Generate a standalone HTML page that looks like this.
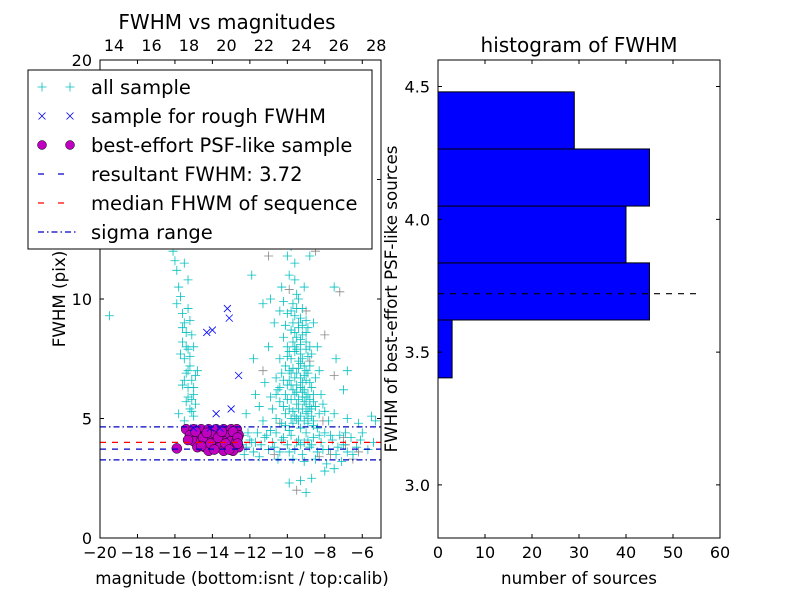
<!DOCTYPE html>
<html><head><meta charset="utf-8"><style>body{margin:0;background:#fff}svg{display:block;font-family:"DejaVu Sans","Liberation Sans",sans-serif}</style></head>
<body>
<svg id="c" width="800" height="600" viewBox="0 0 800 600">
<rect x="0" y="0" width="800" height="600" fill="#fff"/>
<g id="L"></g>
<g id="R"></g>
</svg>
<script>
const cyanPts=[-16.1,12.0,-16.0,11.6,-15.9,11.2,-16.2,12.4,-15.8,10.5,-15.7,10.1,-15.9,9.8,-15.6,9.4,-15.5,9.0,-15.4,8.6,-15.6,8.2,-15.3,7.9,-15.5,7.5,-15.2,7.2,-15.4,6.9,-15.1,6.6,-15.3,6.3,-15.0,6.0,-15.4,5.7,-15.2,5.4,-15.0,5.1,-15.5,4.9,-15.3,10.8,-15.0,8.0,-14.8,7.0,-15.7,7.7,-15.6,6.4,-14.9,5.6,-15.8,5.2,-15.3,9.6,-15.1,8.5,-14.9,6.8,-15.5,11.5,-15.2,7.6,-15.0,6.3,-15.3,5.9,-15.1,5.3,-15.4,8.0,-15.2,9.1,-15.5,6.6,-15.3,7.0,-15.1,5.8,-15.6,8.8,
-19.5,9.3,
-10.5,12.8,-9.8,12.2,-9.6,11.5,-9.9,11.0,-10.3,10.5,-9.5,10.2,-9.7,9.8,-10.0,9.4,-9.4,9.0,-9.8,8.7,-10.2,8.4,-9.3,8.1,-9.6,7.8,-10.4,7.5,-9.1,7.2,-9.9,7.0,-10.6,6.7,-9.2,6.5,-9.7,6.2,-10.1,6.0,-8.8,5.8,-9.5,5.6,-10.8,5.4,-9.0,5.2,-9.8,5.0,-10.3,4.8,-8.6,4.7,-9.3,4.6,-9.6,9.3,-9.2,8.5,-9.0,7.9,-8.9,6.9,-8.7,6.3,-8.5,5.5,-9.4,7.4,-9.9,6.6,-10.5,6.2,-10.9,5.9,-11.2,6.5,-11.5,5.5,-11.8,7.5,-11.0,8.0,-10.7,9.0,-10.9,10.0,-11.3,9.8,-8.3,7.0,-8.2,6.0,-8.0,5.3,-7.8,4.9,-8.4,8.0,-8.6,9.0,-9.1,10.5,-8.8,11.8,-10.0,11.8,-7.5,10.5,-11.9,11.0,-9.5,6.9,-9.7,5.3,-9.2,5.9,-10.2,5.5,-9.4,4.9,-9.9,4.5,-10.6,5.0,-11.3,4.9,-8.9,5.0,-8.4,4.6,-7.5,5.2,-6.8,5.0,-6.2,4.8,-5.5,5.1,-9.6,8.0,-9.8,7.5,-10.1,7.2,-9.3,6.7,-9.1,6.2,-9.6,6.0,-9.0,5.6,-8.7,5.4,-10.0,6.4,-9.4,5.4,-10.4,9.5,-9.2,9.6,-8.9,8.8,-11.7,6.0,-12.2,5.2,-7.0,6.2,-7.4,7.5,-6.8,7.0,-9.5,8.4,-9.7,7.1,-9.3,7.7,-10.0,8.0,-9.1,6.8,-9.5,6.4,-9.8,5.8,-10.3,6.9,-8.9,7.6,-9.3,5.1,
-9.4,8.8,-9.6,8.6,-9.3,8.3,-9.7,8.2,-9.5,7.9,-9.2,7.5,-9.4,7.1,-9.6,6.7,-9.0,6.6,-9.3,6.3,-9.5,6.1,-8.9,6.0,-9.1,5.7,-9.4,5.8,-8.8,5.5,-9.6,5.1,-9.1,4.9,-8.7,5.1,-9.8,6.4,-10.0,5.8,-9.9,7.8,-10.1,8.9,-9.7,9.0,-9.0,8.2,-8.8,7.2,-8.6,6.0,-8.9,5.3,-9.2,5.4,-9.5,5.0,-10.1,5.2,-10.4,5.7,-10.6,6.0,-9.8,9.5,-9.4,10.0,-9.6,10.8,-10.2,9.9,-8.5,6.7,-8.7,7.7,-9.0,9.1,
-9.2,8.9,-9.0,8.6,-8.8,8.0,-9.3,7.3,-9.0,7.0,-8.8,6.5,-9.2,6.1,-9.0,5.9,-8.6,5.7,-8.9,4.8,-9.7,4.8,-10.2,6.6,-10.4,6.3,-9.9,5.4,-10.1,4.7,-8.3,5.2,-8.1,5.6,-8.6,4.9,-9.8,6.9,-10.0,7.6,-9.5,9.6,-9.3,9.2,
-12.4,4.3,-12.2,3.8,-12.0,4.1,-11.8,3.6,-11.6,4.4,-11.4,3.9,-11.2,4.2,-11.0,3.7,-10.8,4.0,-10.6,4.4,-10.4,3.6,-10.2,4.2,-10.0,3.9,-9.8,4.3,-9.6,3.7,-9.4,4.1,-9.2,3.5,-9.0,4.4,-8.8,3.8,-8.6,4.2,-8.4,3.6,-8.2,4.0,-8.0,4.4,-7.8,3.7,-7.6,4.1,-7.4,3.5,-7.2,4.3,-7.0,3.9,-6.8,3.6,-6.6,4.2,-6.3,3.8,-6.0,4.4,-5.7,3.7,-5.4,4.0,-5.3,4.9,-10.9,4.5,-9.7,3.3,-9.1,3.2,-8.5,3.3,-7.9,3.1,-7.5,2.9,-7.1,3.2,-9.3,2.4,-9.9,2.3,-9.0,1.9,-8.7,2.5,-8.0,2.8,-12.3,3.5,-11.5,3.4,-10.5,3.3,-11.9,4.0,-10.7,3.8,-9.5,4.0,-8.3,4.3,-7.3,3.8,-6.5,3.5,-12.1,4.4,-11.1,4.3,-9.9,3.6,-8.9,4.1,-9.3,3.9,-9.1,4.0,-8.7,3.9,-8.1,3.7,-10.3,4.1,-11.7,4.0,-12.4,3.9,-7.7,4.3,-6.9,4.4,-6.1,4.1];
const grayPts=[-9.6,12.5,-8.5,12.0,-7.2,10.3,-8.0,8.5,-9.0,9.5,-11.0,11.8,-7.5,6.8,-8.1,4.9,-7.0,4.2,-6.5,3.3,-6.2,3.6,-9.5,2.0,-10.4,4.8,-11.3,7.0,-8.8,7.4,-9.9,10.4,-6.9,3.9,-7.7,3.5,-10.7,3.5,-8.3,3.4];
const roughPts=[-14.3,8.6,-14.0,8.7,-13.2,9.6,-13.1,9.2,-12.6,6.8,-13.0,5.4,-13.8,5.2,-15.0,4.6,-14.1,4.6,-13.6,4.6];
const bestPts=[-15.4,4.55,-15.0,4.55,-14.6,4.55,-14.2,4.55,-13.8,4.55,-13.4,4.55,-13.0,4.55,-12.7,4.55,-15.2,4.3,-14.8,4.3,-14.4,4.3,-14.0,4.3,-13.6,4.3,-13.2,4.3,-12.8,4.3,-12.6,4.3,-15.0,4.05,-14.6,4.05,-14.2,4.05,-13.8,4.05,-13.4,4.05,-13.0,4.05,-12.7,4.05,-14.8,3.8,-14.4,3.8,-14.0,3.8,-13.6,3.8,-13.2,3.8,-12.8,3.8,-12.6,3.8,-14.2,3.65,-13.4,3.65,-12.9,3.65,-15.9,3.75,
-15.3,4.1,-14.9,4.45,-14.5,4.2,-14.1,3.95,-13.7,4.2,-13.3,3.95,-12.9,4.45,-13.1,3.7,-13.9,3.7,-14.6,3.85,-13.5,4.45,-14.3,4.4,-12.65,4.2,-12.65,3.95];
const resultFWHM=3.72, medianFWHM=4.0, sigmaLo=3.27, sigmaHi=4.65;
const xTicks=[-20,-18,-16,-14,-12,-10,-8,-6];
const yTicks=[0,5,10,15,20];
const topTicks=[14,16,18,20,22,24,26,28];
const topOffset=33.25;
const binEdges=[3.403,3.621,3.836,4.05,4.265,4.48];
const binCounts=[3,45,40,45,29];
const histXTicks=[0,10,20,30,40,50,60];
const histYTicks=[3.0,3.5,4.0,4.5];
const NS='http://www.w3.org/2000/svg';
function mk(p,t,a,txt){const e=document.createElementNS(NS,t);for(const k in a)e.setAttribute(k,a[k]);if(txt!==undefined)e.textContent=txt;p.appendChild(e);return e;}
const L=document.getElementById('L'),R=document.getElementById('R');
const lx0=100,lx1=381,ly0=538,ly1=60;
const sx=v=>lx0+(v+20)/15*(lx1-lx0), sy=v=>ly0-v/20*(ly0-ly1);
const sxTop=v=>sx(v-topOffset);
const pts=mk(L,'g',{});

function plus(x,y,c){const g=mk(pts,'path',{d:`M${x-4.5},${y}h9M${x},${y-4.5}v9`,stroke:c,'stroke-width':0.8,fill:'none'});}
function cross(x,y){const g=mk(pts,'path',{d:`M${x-3.5},${y-3.5}l7,7M${x-3.5},${y+3.5}l7,-7`,stroke:'#0000ff','stroke-width':0.8,fill:'none'});}
for(let i=0;i<grayPts.length;i+=2)plus(sx(grayPts[i]),sy(grayPts[i+1]),'#888');
for(let i=0;i<cyanPts.length;i+=2)plus(sx(cyanPts[i]),sy(cyanPts[i+1]),'#00bfbf');
for(let i=0;i<bestPts.length;i+=2){const c=mk(pts,'circle',{cx:sx(bestPts[i]),cy:sy(bestPts[i+1]),r:5,fill:'#bf00bf',stroke:'#000','stroke-width':0.5});}
for(let i=0;i<roughPts.length;i+=2)cross(sx(roughPts[i]),sy(roughPts[i+1]));
function hline(v,c,dash,name){const l=mk(L,'line',{x1:lx0,x2:lx1,y1:sy(v),y2:sy(v),stroke:c,'stroke-width':1.2,'stroke-dasharray':dash});}
hline(resultFWHM,'#0000bf','6 6','resultant-fwhm-line');
hline(medianFWHM,'#ff0000','6 6','median-fwhm-line');
hline(sigmaLo,'#0000bf','6 3 1.5 3','sigma-low-line');
hline(sigmaHi,'#0000bf','6 3 1.5 3','sigma-high-line');
mk(L,'rect',{x:lx0,y:ly1,width:lx1-lx0,height:ly0-ly1,fill:'none',stroke:'#000','stroke-width':1});
const ticks=mk(L,'g',{'font-size':16,fill:'#000'});
xTicks.forEach(t=>{const x=sx(t);mk(ticks,'path',{d:`M${x},${ly0}v-4M${x},${ly1}v4`,stroke:'#000'});const e=mk(ticks,'text',{x:x,y:ly0+20,'text-anchor':'middle'},(t<0?'\u2212'+(-t):t));});
yTicks.forEach(t=>{const y=sy(t);mk(ticks,'path',{d:`M${lx0},${y}h4M${lx1},${y}h-4`,stroke:'#000'});const e=mk(ticks,'text',{x:lx0-8,y:y+6,'text-anchor':'end'},t);});
topTicks.forEach(t=>{const x=sxTop(t);const e=mk(ticks,'text',{x:x,y:ly1-9,'text-anchor':'middle'},t);});
let e;
e=mk(L,'text',{x:227,y:29,'text-anchor':'middle','font-size':20},'FWHM vs magnitudes');
e=mk(L,'text',{x:242,y:584,'text-anchor':'middle','font-size':16.7},'magnitude (bottom:isnt / top:calib)');
e=mk(L,'text',{x:65,y:299,'text-anchor':'middle','font-size':16.7,transform:'rotate(-90 65 299)'},'FWHM (pix)');
const lg=mk(L,'g',{});
mk(lg,'rect',{x:28,y:70,width:344,height:179,fill:'#fff',stroke:'#000','stroke-width':1});
const labels=['all sample','sample for rough FWHM','best-effort PSF-like sample','resultant FWHM: 3.72','median FHWM of sequence','sigma range'];
labels.forEach((s,i)=>{const y=87+i*29;
 if(i==0){[42,70].forEach(x=>mk(lg,'path',{d:`M${x-4.5},${y}h9M${x},${y-4.5}v9`,stroke:'#00bfbf','stroke-width':0.8}));}
 if(i==1){[42,70].forEach(x=>mk(lg,'path',{d:`M${x-3.5},${y-3.5}l7,7M${x-3.5},${y+3.5}l7,-7`,stroke:'#0000ff','stroke-width':0.8}));}
 if(i==2){[42,70].forEach(x=>mk(lg,'circle',{cx:x,cy:y,r:4.5,fill:'#bf00bf',stroke:'#000','stroke-width':0.5}));}
 if(i==3)mk(lg,'line',{x1:38,x2:76,y1:y,y2:y,stroke:'#0000bf','stroke-width':1.2,'stroke-dasharray':'6 14'});
 if(i==4)mk(lg,'line',{x1:38,x2:76,y1:y,y2:y,stroke:'#ff0000','stroke-width':1.2,'stroke-dasharray':'6 14'});
 if(i==5)mk(lg,'line',{x1:38,x2:76,y1:y,y2:y,stroke:'#0000bf','stroke-width':1.2,'stroke-dasharray':'6 3 1.5 3'});
 const t=mk(lg,'text',{x:91,y:y+7,'font-size':19.5},s);});
const rx0=438,rx1=720,ry0=538,ry1=60;
const hx=v=>rx0+v/60*(rx1-rx0), hy=v=>ry0-(v-2.8)/1.8*(ry0-ry1);
binCounts.forEach((c,i)=>{const r=mk(R,'rect',{x:rx0,y:hy(binEdges[i+1]),width:hx(c)-rx0,height:hy(binEdges[i])-hy(binEdges[i+1]),fill:'#0000ff',stroke:'#000','stroke-width':1});});
e=mk(R,'line',{x1:rx0,x2:hx(55),y1:hy(resultFWHM),y2:hy(resultFWHM),stroke:'#000','stroke-width':1.2,'stroke-dasharray':'6 6'});
mk(R,'rect',{x:rx0,y:ry1,width:rx1-rx0,height:ry0-ry1,fill:'none',stroke:'#000','stroke-width':1});
const rt=mk(R,'g',{'font-size':16,fill:'#000'});
histXTicks.forEach(t=>{const x=hx(t);mk(rt,'path',{d:`M${x},${ry0}v-4M${x},${ry1}v4`,stroke:'#000'});const q=mk(rt,'text',{x:x,y:ry0+20,'text-anchor':'middle'},t);});
histYTicks.forEach(t=>{const y=hy(t);mk(rt,'path',{d:`M${rx0},${y}h4M${rx1},${y}h-4`,stroke:'#000'});const q=mk(rt,'text',{x:rx0-8,y:y+6,'text-anchor':'end'},t.toFixed(1));});
e=mk(R,'text',{x:579,y:52,'text-anchor':'middle','font-size':20},'histogram of FWHM');
e=mk(R,'text',{x:579,y:584,'text-anchor':'middle','font-size':16.7},'number of sources');
e=mk(R,'text',{x:397,y:299,'text-anchor':'middle','font-size':16.7,transform:'rotate(-90 397 299)'},'FWHM of best-effort PSF-like sources');
</script>
</body></html>
